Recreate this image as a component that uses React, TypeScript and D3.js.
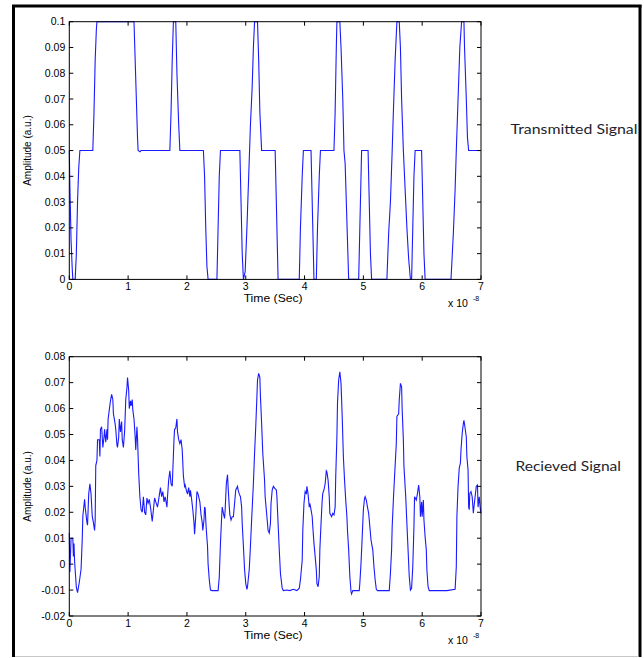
import React from 'react';
import * as d3 from 'd3';

// ---------- data ----------
const TIME_TICKS = [0, 1, 2, 3, 4, 5, 6, 7];
const TIME_LABELS = ['0', '1', '2', '3', '4', '5', '6', '7'];

const TX_Y_TICKS = [0, 0.01, 0.02, 0.03, 0.04, 0.05, 0.06, 0.07, 0.08, 0.09, 0.1];
const TX_Y_LABELS = ['0', '0.01', '0.02', '0.03', '0.04', '0.05', '0.06', '0.07', '0.08', '0.09', '0.1'];

const RX_Y_TICKS = [-0.02, -0.01, 0, 0.01, 0.02, 0.03, 0.04, 0.05, 0.06, 0.07, 0.08];
const RX_Y_LABELS = ['-0.02', '-0.01', '0', '0.01', '0.02', '0.03', '0.04', '0.05', '0.06', '0.07', '0.08'];

// transmitted signal breakpoints (time in 1e-8 s, amplitude)
const TX_TIME = [
  0, 0.01, 0.03, 0.05, 0.06, 0.10, 0.12, 0.14, 0.16, 0.18, 0.40, 0.42, 0.44, 0.46, 0.47,
  1.10, 1.12, 1.14, 1.16, 1.17, 1.20, 1.22, 1.71, 1.73, 1.75, 1.77, 1.81, 1.83, 1.86, 1.88,
  2.28, 2.30, 2.32, 2.34, 2.36, 2.51, 2.53, 2.55, 2.57, 2.90, 2.92, 2.94, 2.96, 2.99,
  3.02, 3.05, 3.08, 3.11, 3.13, 3.15, 3.20, 3.22, 3.24, 3.27, 3.50, 3.52, 3.54, 3.55,
  3.91, 3.93, 3.96, 3.98, 4.11, 4.13, 4.15, 4.16, 4.20, 4.22, 4.25, 4.27, 4.50, 4.52, 4.54, 4.55,
  4.60, 4.62, 4.65, 4.67, 4.69, 4.71, 4.73, 4.75, 4.92, 4.94, 4.96, 4.97, 5.08, 5.10, 5.12, 5.14,
  5.40, 5.43, 5.46, 5.49, 5.51, 5.54, 5.57, 5.61, 5.63, 5.65, 5.68, 5.71, 5.74, 5.77, 5.80,
  5.82, 5.84, 5.86, 5.88, 5.99, 6.01, 6.03, 6.05, 6.49, 6.53, 6.56, 6.58, 6.61, 6.64, 6.67,
  6.71, 6.72, 6.75, 6.77, 6.79, 7.0,
];
const TX_AMP = [
  0.05, 0.036, 0.015, 0.004, 0, 0, 0.01, 0.03, 0.043, 0.05, 0.05, 0.065, 0.085, 0.097, 0.1,
  0.1, 0.085, 0.07, 0.055, 0.05, 0.0495, 0.05, 0.05, 0.065, 0.085, 0.1, 0.1, 0.08, 0.06, 0.05,
  0.05, 0.04, 0.02, 0.005, 0, 0, 0.02, 0.04, 0.05, 0.05, 0.03, 0.01, 0, 0.003,
  0.02, 0.04, 0.06, 0.075, 0.09, 0.1, 0.1, 0.085, 0.065, 0.05, 0.05, 0.03, 0.01, 0,
  0, 0.02, 0.04, 0.05, 0.05, 0.03, 0.01, 0, 0, 0.02, 0.04, 0.05, 0.05, 0.065, 0.09, 0.1,
  0.1, 0.09, 0.07, 0.05, 0.045, 0.03, 0.015, 0, 0, 0.02, 0.04, 0.05, 0.05, 0.03, 0.01, 0,
  0, 0.018, 0.03, 0.05, 0.065, 0.085, 0.1, 0.1, 0.09, 0.07, 0.05, 0.035, 0.02, 0.008, 0,
  0, 0.02, 0.04, 0.05, 0.05, 0.03, 0.01, 0, 0, 0.018, 0.035, 0.05, 0.07, 0.09, 0.1,
  0.1, 0.09, 0.07, 0.055, 0.05, 0.05,
];

// received signal samples (time in 1e-8 s, amplitude in 0.01 units)
const RX_TIME = [
  0.00, 0.01, 0.03, 0.06, 0.07, 0.08, 0.09, 0.12, 0.14, 0.17, 0.20, 0.22, 0.23, 0.26, 0.27,
  0.30, 0.31, 0.33, 0.35, 0.37, 0.39, 0.41, 0.43, 0.44, 0.45, 0.47, 0.48, 0.51, 0.52, 0.53,
  0.55, 0.57, 0.59, 0.60, 0.62, 0.64, 0.65, 0.66, 0.68, 0.70, 0.72, 0.74, 0.75, 0.78, 0.79,
  0.81, 0.82, 0.84, 0.85, 0.87, 0.89, 0.90, 0.92, 0.94, 0.95, 0.96, 0.98, 0.99, 1.01, 1.02,
  1.04, 1.05, 1.07, 1.08, 1.10, 1.12, 1.13, 1.15, 1.16, 1.18, 1.20, 1.22, 1.24, 1.26, 1.28,
  1.30, 1.32, 1.34, 1.36, 1.38, 1.41, 1.43, 1.45, 1.47, 1.50, 1.52, 1.55, 1.57, 1.59, 1.61,
  1.63, 1.66, 1.67, 1.69, 1.71, 1.73, 1.75, 1.76, 1.78, 1.79, 1.81, 1.83, 1.84, 1.86, 1.88,
  1.90, 1.92, 1.94, 1.96, 1.97, 1.99, 2.01, 2.03, 2.05, 2.06, 2.08, 2.10, 2.12, 2.13, 2.15,
  2.17, 2.19, 2.21, 2.22, 2.24, 2.26, 2.27, 2.29, 2.30, 2.31, 2.33, 2.35, 2.36, 2.38, 2.40,
  2.43, 2.48, 2.53, 2.55, 2.57, 2.59, 2.60, 2.62, 2.64, 2.65, 2.67, 2.69, 2.70, 2.72, 2.73,
  2.75, 2.77, 2.79, 2.81, 2.83, 2.86, 2.87, 2.89, 2.91, 2.93, 2.94, 2.96, 2.98, 3.00, 3.02,
  3.03, 3.06, 3.08, 3.10, 3.13, 3.15, 3.17, 3.19, 3.20, 3.22, 3.24, 3.25, 3.27, 3.29, 3.32,
  3.33, 3.36, 3.38, 3.40, 3.42, 3.43, 3.45, 3.47, 3.49, 3.52, 3.53, 3.55, 3.57, 3.59, 3.62,
  3.64, 3.70, 3.75, 3.81, 3.87, 3.91, 3.93, 3.96, 3.97, 3.99, 4.01, 4.03, 4.04, 4.06, 4.08,
  4.09, 4.11, 4.13, 4.14, 4.16, 4.18, 4.20, 4.21, 4.23, 4.25, 4.26, 4.28, 4.30, 4.31, 4.33,
  4.35, 4.37, 4.38, 4.40, 4.42, 4.43, 4.46, 4.48, 4.50, 4.52, 4.53, 4.55, 4.56, 4.58, 4.60,
  4.62, 4.64, 4.66, 4.68, 4.70, 4.72, 4.73, 4.75, 4.77, 4.79, 4.80, 4.82, 4.88, 4.93, 4.94,
  4.96, 4.98, 5.00, 5.02, 5.03, 5.05, 5.07, 5.09, 5.11, 5.13, 5.16, 5.18, 5.20, 5.22, 5.24,
  5.28, 5.34, 5.44, 5.46, 5.48, 5.49, 5.51, 5.53, 5.56, 5.57, 5.60, 5.61, 5.63, 5.65, 5.66,
  5.68, 5.69, 5.72, 5.74, 5.76, 5.78, 5.80, 5.82, 5.84, 5.86, 5.87, 5.90, 5.92, 5.94, 5.96,
  5.97, 5.99, 6.00, 6.02, 6.03, 6.05, 6.07, 6.08, 6.10, 6.12, 6.19, 6.31, 6.42, 6.56, 6.58,
  6.59, 6.61, 6.63, 6.65, 6.66, 6.68, 6.70, 6.71, 6.73, 6.75, 6.76, 6.78, 6.79, 6.80, 6.81,
  6.83, 6.85, 6.87, 6.88, 6.90, 6.92, 6.94, 6.95, 6.97, 6.99, 7.00,
];
const RX_AMP = [
  1.2, -0.3, 1.0, 1.0, 0.3, 0.8, 0.1, -0.9, -1.1, -0.7, -0.2, 0.95, 1.85, 2.5, 2.2,
  1.6, 1.5, 2.7, 3.1, 2.7, 1.85, 1.6, 1.3, 1.7, 3.8, 4.0, 4.8, 4.8, 4.15, 5.2,
  5.3, 4.5, 4.9, 5.2, 4.7, 5.2, 4.8, 5.6, 5.95, 6.3, 6.55, 6.35, 5.8, 5.4, 5.2,
  4.6, 4.5, 4.9, 5.6, 5.1, 5.5, 4.8, 4.5, 5.1, 5.7, 6.35, 6.8, 7.2, 6.7, 6.0,
  6.3, 6.1, 6.35, 5.95, 5.6, 4.9, 4.4, 5.3, 4.85, 3.5, 2.6, 2.1, 2.0, 2.6, 2.0,
  1.9, 2.55, 2.35, 2.5, 2.2, 1.65, 2.1, 2.55, 2.4, 2.2, 2.5, 2.95, 2.6, 2.8, 2.4,
  2.6, 2.2, 2.6, 3.25, 3.6, 3.1, 3.0, 3.6, 4.8, 5.2, 5.25, 5.6, 5.1, 4.8, 4.65,
  4.8, 4.4, 3.4, 3.0, 3.05, 2.85, 2.7, 2.95, 2.6, 2.85, 2.5, 2.1, 1.6, 1.15, 1.85,
  2.8, 2.7, 2.5, 2.4, 1.9, 1.6, 1.3, 1.7, 2.2, 2.15, 1.3, 0.7, 0.0, -0.6, -1.0,
  -1.02, -1.02, -1.02, -0.5, 0.8, 1.8, 2.2, 1.96, 1.76, 2.1, 3.1, 3.45, 3.0, 2.2, 1.9,
  1.7, 1.83, 1.83, 2.34, 2.86, 3.0, 2.86, 2.7, 2.6, 2.2, 1.57, 0.7, -0.2, -0.74, -0.97,
  -0.87, -0.2, 0.7, 1.7, 3.1, 4.27, 5.3, 6.46, 7.1, 7.36, 7.2, 6.46, 5.43, 4.27, 3.24,
  2.6, 1.83, 1.3, 1.2, 1.57, 2.34, 2.86, 3.0, 2.93, 2.86, 2.6, 1.57, 0.55, -0.36, -0.93,
  -1.02, -1.0, -1.02, -0.97, -1.02, -0.93, -0.6, 0.15, 1.3, 2.34, 2.8, 2.7, 3.0, 2.7, 2.2,
  2.34, 2.1, 1.83, 1.45, 0.8, 0.3, -0.22, -0.74, -0.87, -0.48, 0.55, 1.57, 2.47, 2.73, 2.86,
  3.1, 3.6, 3.56, 3.24, 2.6, 1.96, 1.83, 1.96, 1.9, 2.2, 3.37, 4.9, 6.2, 7.1, 7.42,
  6.97, 5.7, 4.14, 3.24, 2.47, 1.83, 1.3, 0.55, -0.48, -1.06, -1.15, -1.02, -1.02, -1.02, -0.74,
  0.03, 1.05, 2.1, 2.54, 2.6, 2.47, 2.2, 1.96, 1.45, 0.93, 0.55, -0.1, -0.6, -0.97, -1.02,
  -1.02, -1.02, -1.02, -0.36, 0.55, 1.45, 2.47, 3.37, 4.65, 5.7, 5.8, 6.33, 6.97, 6.84, 5.94,
  4.79, 3.76, 2.6, 1.57, 0.55, -0.48, -1.0, -0.93, -0.1, 1.45, 2.6, 2.47, 2.73, 3.05, 2.6,
  1.83, 2.4, 1.83, 2.47, 1.7, 1.05, 0.55, -0.22, -0.87, -1.02, -1.02, -1.02, -1.02, -0.97, -0.1,
  1.83, 3.0, 3.7, 3.9, 4.4, 5.04, 5.43, 5.55, 5.24, 4.9, 4.14, 3.63, 2.2, 2.1, 2.73,
  2.8, 2.6, 1.96, 2.2, 2.6, 3.0, 3.05, 2.2, 2.6, 2.1, 1.96,
];

const PANEL_TITLES = ['Transmitted Signal', 'Recieved Signal'];
const X_LABEL = 'Time (Sec)';
const Y_LABEL = 'Amplitude (a.u.)';

// ---------- layout ----------
const W = 644;
const H = 658;
const PLOT_LEFT = 69.3;
const PLOT_RIGHT = 481;
const FONT = '"Liberation Sans", Arial, Helvetica, sans-serif';
const TICK = 4;

type PanelProps = {
  top: number;
  bottom: number;
  yDomain: [number, number];
  yTicks: number[];
  yLabels: string[];
  times: number[];
  amps: number[];
  scale: number;
  title: string;
  titleX: number;
  titleY: number;
  titleLen: number;
};

function Panel(p: PanelProps) {
  const x = d3.scaleLinear().domain([0, 7]).range([PLOT_LEFT, PLOT_RIGHT]);
  const y = d3.scaleLinear().domain(p.yDomain).range([p.bottom, p.top]);
  const pts: [number, number][] = p.times.map((t, i) => [t, p.amps[i] * p.scale]);
  const line = d3
    .line<[number, number]>()
    .x((d) => x(d[0]))
    .y((d) => y(d[1]));
  const w = PLOT_RIGHT - PLOT_LEFT;
  const h = p.bottom - p.top;
  const midY = (p.top + p.bottom) / 2;
  return (
    <g>
      <rect x={PLOT_LEFT} y={p.top} width={w} height={h} fill="#fff" />
      <path d={line(pts) || ''} fill="none" stroke="#1a1aff" strokeWidth={1.1} />
      <rect x={PLOT_LEFT} y={p.top} width={w} height={h} fill="none" stroke="#000" strokeWidth={1} />
      {TIME_TICKS.map((t, i) => (
        <g key={'xt' + i}>
          <line x1={x(t)} x2={x(t)} y1={p.bottom} y2={p.bottom - TICK} stroke="#000" />
          <line x1={x(t)} x2={x(t)} y1={p.top} y2={p.top + TICK} stroke="#000" />
          <text x={x(t)} y={p.bottom + 11} textAnchor="middle" fontSize={10.5} fontFamily={FONT}>
            {TIME_LABELS[i]}
          </text>
        </g>
      ))}
      {p.yTicks.map((v, i) => (
        <g key={'yt' + i}>
          <line x1={PLOT_LEFT} x2={PLOT_LEFT + TICK} y1={y(v)} y2={y(v)} stroke="#000" />
          <line x1={PLOT_RIGHT} x2={PLOT_RIGHT - TICK} y1={y(v)} y2={y(v)} stroke="#000" />
          <text x={PLOT_LEFT - 4} y={y(v) + 3.5} textAnchor="end" fontSize={10.5} fontFamily={FONT}>
            {p.yLabels[i]}
          </text>
        </g>
      ))}
      <text
        x={(PLOT_LEFT + PLOT_RIGHT) / 2 - 2}
        y={p.bottom + 23}
        textAnchor="middle"
        fontSize={10.5}
        fontFamily={FONT}
        textLength={59}
        lengthAdjust="spacingAndGlyphs"
      >
        {X_LABEL}
      </text>
      <text x={448} y={p.bottom + 28} fontSize={10.5} fontFamily={FONT}>
        x 10
      </text>
      <text x={473} y={p.bottom + 22} fontSize={7} fontFamily={FONT}>
        -8
      </text>
      <text
        transform={`translate(30.5,${midY}) rotate(-90)`}
        textAnchor="middle"
        fontSize={10}
        fontFamily={FONT}
      >
        {Y_LABEL}
      </text>
      <text
        x={p.titleX}
        y={p.titleY}
        fontSize={13}
        fontFamily='Lato, "Open Sans", sans-serif'
        fill="#1e1e2e"
        textLength={p.titleLen}
        lengthAdjust="spacingAndGlyphs"
      >
        {p.title}
      </text>
    </g>
  );
}

export default function App() {
  return (
    <svg
      width={W}
      height={H}
      style={{ position: 'absolute', left: 0, top: 0, background: '#fff' }}
    >
      <rect x={0} y={0} width={W} height={H} fill="#fff" />
      <Panel
        top={21.7}
        bottom={279.4}
        yDomain={[0, 0.1]}
        yTicks={TX_Y_TICKS}
        yLabels={TX_Y_LABELS}
        times={TX_TIME}
        amps={TX_AMP}
        scale={1}
        title={PANEL_TITLES[0]}
        titleX={510.5}
        titleY={134}
        titleLen={127}
      />
      <Panel
        top={356.7}
        bottom={616}
        yDomain={[-0.02, 0.08]}
        yTicks={RX_Y_TICKS}
        yLabels={RX_Y_LABELS}
        times={RX_TIME}
        amps={RX_AMP}
        scale={0.01}
        title={PANEL_TITLES[1]}
        titleX={515.5}
        titleY={470.5}
        titleLen={105.5}
      />
      {/* outer frame */}
      <line x1={13.5} x2={13.5} y1={5} y2={657} stroke="#000" strokeWidth={3} />
      <line x1={12} x2={641.5} y1={6} y2={6} stroke="#000" strokeWidth={3} />
      <line x1={640} x2={640} y1={5} y2={657} stroke="#000" strokeWidth={3} />
      <line x1={15} x2={638.5} y1={656.5} y2={656.5} stroke="#c8c8c8" strokeWidth={1} />
    </svg>
  );
}
